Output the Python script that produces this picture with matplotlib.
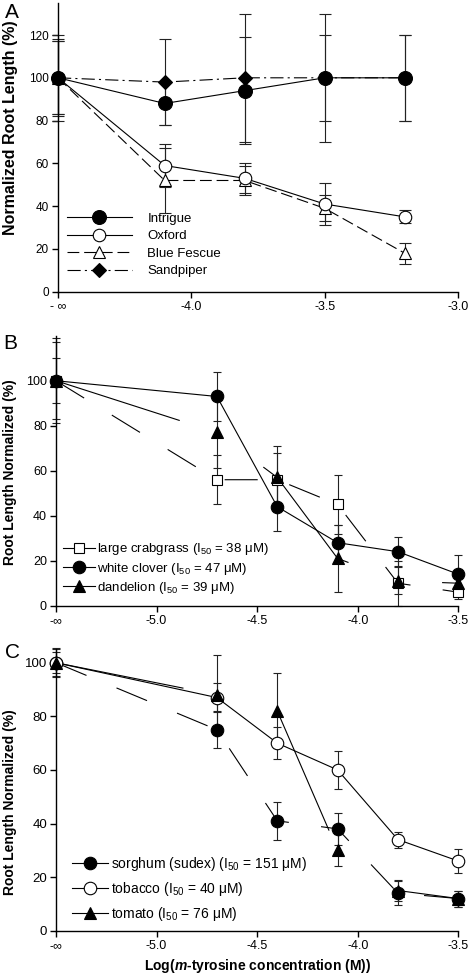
import matplotlib
matplotlib.use('Agg')
import matplotlib.pyplot as plt
from matplotlib.lines import Line2D

plt.rcParams['font.family'] = ['Liberation Sans', 'DejaVu Sans']
plt.rcParams['mathtext.fontset'] = 'custom'
plt.rcParams['mathtext.rm'] = 'Liberation Sans'
plt.rcParams['mathtext.it'] = 'Liberation Sans:italic:bold'
plt.rcParams['mathtext.bf'] = 'Liberation Sans:bold'
plt.rcParams['lines.scale_dashes'] = False

# ---- panel A (turf grasses), -inf plotted at -4.5
x_a = [-4.5, -4.1, -3.8, -3.5, -3.2]
a_ticks = [-4.5, -4.0, -3.5, -3.0]
a_ticklabels = ['- \u221e', '-4.0', '-3.5', '-3.0']
intrigue = [100, 88, 94, 100, 100]
intrigue_err = [20, 10, 25, 20, 20]
oxford = [100, 59, 53, 41, 35]
oxford_err = [18, 10, 7, 10, 3]
fescue = [100, 52, 52, 39, 18]
fescue_err = [17, 15, 7, 6, 5]
sandpiper = [100, 98, 100, 100, 100]
sandpiper_err = [17, 20, 30, 30, 20]

# ---- panels B and C, -inf plotted at -5.5
x_bc = [-5.5, -4.7, -4.4, -4.1, -3.8, -3.5]
bc_ticks = [-5.5, -5.0, -4.5, -4.0, -3.5]
bc_ticklabels = ['-\u221e', '-5.0', '-4.5', '-4.0', '-3.5']

crabgrass = [100, 56, 56, 45, 10, 6]
crabgrass_err = [19, 11, 12, 13, 10, 3]
clover = [100, 93, 44, 28, 24, 14]
clover_err = [17, 11, 11, 8, 6.5, 8.5]
dandelion = [100, 77, 57, 21, 11, 10]
dandelion_err = [10, 16, 14, 15, 6, 3]

sorghum = [100, 75, 41, 38, 14, 12]
sorghum_err = [5, 7, 7, 6, 4.5, 3]
tobacco = [100, 87, 70, 60, 34, 26]
tobacco_err = [5.5, 5.5, 6, 7, 3, 4.5]
tomato = [100, 88, 82, 30, 15, 12]
tomato_err = [4, 15, 14, 6, 4, 3]

LONG_DASH = (0, (23.8, 23.4))
VERY_LONG = (0, (93.6, 69.8))
SHORT_DASH = (0, (8.5, 3.5))
DASH_DOT = (0, (9.5, 3, 1.5, 3))
LW = 0.8


def draw(ax, x, y, err, marker, face, ms, ls, cap):
    ax.plot(x, y, color='black', lw=LW, ls=ls, zorder=2, clip_on=False)
    eb = ax.errorbar(x, y, yerr=err, fmt='none', ecolor='#222222',
                     elinewidth=LW, capsize=cap, capthick=LW, zorder=2)
    for art in eb.get_children():
        art.set_clip_on(False)
    ax.plot(x, y, ls='none', marker=marker, ms=ms, mfc=face, mec='black',
            mew=0.8, zorder=3, clip_on=False)


def handle(marker, face, ms, ls):
    return Line2D([], [], color='black', lw=LW, ls=ls, marker=marker, ms=ms,
                  mfc=face, mec='black', mew=0.8)


def style(ax, xlim, xticks, xlabels, ylim, yticks, xfs, yfs):
    ax.set_xlim(xlim)
    ax.set_ylim(ylim)
    ax.set_xticks(xticks)
    ax.set_xticklabels(xlabels, fontsize=xfs)
    ax.set_yticks(yticks)
    ax.set_yticklabels([str(v) for v in yticks], fontsize=yfs)
    for s in ['top', 'right']:
        ax.spines[s].set_visible(False)
    for s in ['left', 'bottom']:
        ax.spines[s].set_linewidth(1.0)
    ax.tick_params(direction='out', length=4, width=1.0, pad=2.5)


fig = plt.figure(figsize=(4.72, 9.76), dpi=100)
ax_a = fig.add_axes([0.1229, 0.7011, 0.8475, 0.2959])
ax_b = fig.add_axes([0.1186, 0.3794, 0.8524, 0.2766])
ax_c = fig.add_axes([0.1186, 0.0464, 0.8524, 0.2883])

# A
draw(ax_a, x_a, sandpiper, sandpiper_err, 'D', 'black', 7, DASH_DOT, 4)
draw(ax_a, x_a, fescue, fescue_err, '^', 'white', 9, SHORT_DASH, 4)
draw(ax_a, x_a, oxford, oxford_err, 'o', 'white', 9, '-', 4)
draw(ax_a, x_a, intrigue, intrigue_err, 'o', 'black', 10, '-', 4)
style(ax_a, (-4.5, -3.0), a_ticks, a_ticklabels, (0, 135),
      [0, 20, 40, 60, 80, 100, 120], 9, 8.5)
ax_a.set_ylabel('Normalized Root Length (%)', fontsize=11.5, fontweight='bold')
ax_a.yaxis.set_label_coords(-0.1, 0.569)
ax_a.legend([handle('o', 'black', 10, '-'), handle('o', 'white', 9, '-'),
             handle('^', 'white', 9, SHORT_DASH), handle('D', 'black', 7, DASH_DOT)],
            ['Intrigue', 'Oxford', 'Blue Fescue', 'Sandpiper'],
            loc='upper left', bbox_to_anchor=(0.0225, 0.2746), frameon=False,
            fontsize=9.5, handlelength=4.9, handletextpad=1.2, borderpad=0,
            borderaxespad=0, labelspacing=0.4)

# B
draw(ax_b, x_bc, crabgrass, crabgrass_err, 's', 'white', 7.5, LONG_DASH, 3)
draw(ax_b, x_bc, dandelion, dandelion_err, '^', 'black', 9, VERY_LONG, 3)
draw(ax_b, x_bc, clover, clover_err, 'o', 'black', 9, '-', 3)
style(ax_b, (-5.5, -3.5), bc_ticks, bc_ticklabels, (0, 120),
      [0, 20, 40, 60, 80, 100], 9, 9)
ax_b.set_ylabel('Root Length Normalized (%)', fontsize=10, fontweight='bold')
ax_b.yaxis.set_label_coords(-0.097, 0.493)
ax_b.legend([handle('s', 'white', 7.5, '-'), handle('o', 'black', 9, '-'),
             handle('^', 'black', 9, '-')],
            ['large crabgrass (I$_{50}$ = 38 \u03bcM)',
             'white clover (I$_{50}$ = 47 \u03bcM)',
             'dandelion (I$_{50}$ = 39 \u03bcM)'],
            loc='upper left', bbox_to_anchor=(0.018, 0.2385), frameon=False,
            fontsize=9.5, handlelength=2.4, handletextpad=0.15, borderpad=0,
            borderaxespad=0, labelspacing=0.25)

# C
draw(ax_c, x_bc, sorghum, sorghum_err, 'o', 'black', 9, LONG_DASH, 3)
draw(ax_c, x_bc, tobacco, tobacco_err, 'o', 'white', 9, '-', 3)
draw(ax_c, x_bc, tomato, tomato_err, '^', 'black', 9, VERY_LONG, 3)
style(ax_c, (-5.5, -3.5), bc_ticks, bc_ticklabels, (0, 105),
      [0, 20, 40, 60, 80, 100], 9, 9.5)
ax_c.set_ylabel('Root Length Normalized (%)', fontsize=10, fontweight='bold')
ax_c.yaxis.set_label_coords(-0.097, 0.458)
ax_c.set_xlabel('Log($m$-tyrosine concentration (M))', fontsize=10,
                fontweight='bold')
ax_c.xaxis.set_label_coords(0.502, -0.093)
ax_c.legend([handle('o', 'black', 9, '-'), handle('o', 'white', 9, '-'),
             handle('^', 'black', 9, '-')],
            ['sorghum (sudex) (I$_{50}$ = 151 \u03bcM)',
             'tobacco (I$_{50}$ = 40 \u03bcM)',
             'tomato (I$_{50}$ = 76 \u03bcM)'],
            loc='upper left', bbox_to_anchor=(0.039, 0.27), frameon=False,
            fontsize=10, handlelength=2.6, handletextpad=0.25, borderpad=0,
            borderaxespad=0, labelspacing=0.5)

fig.text(5 / 472, 1 - 3 / 976, 'A', fontsize=15, va='top', ha='left')
fig.text(3 / 472, 1 - 334 / 976, 'B', fontsize=15, va='top', ha='left')
fig.text(5 / 472, 1 - 643 / 976, 'C', fontsize=15, va='top', ha='left')

fig.savefig('out.png', dpi=100)
